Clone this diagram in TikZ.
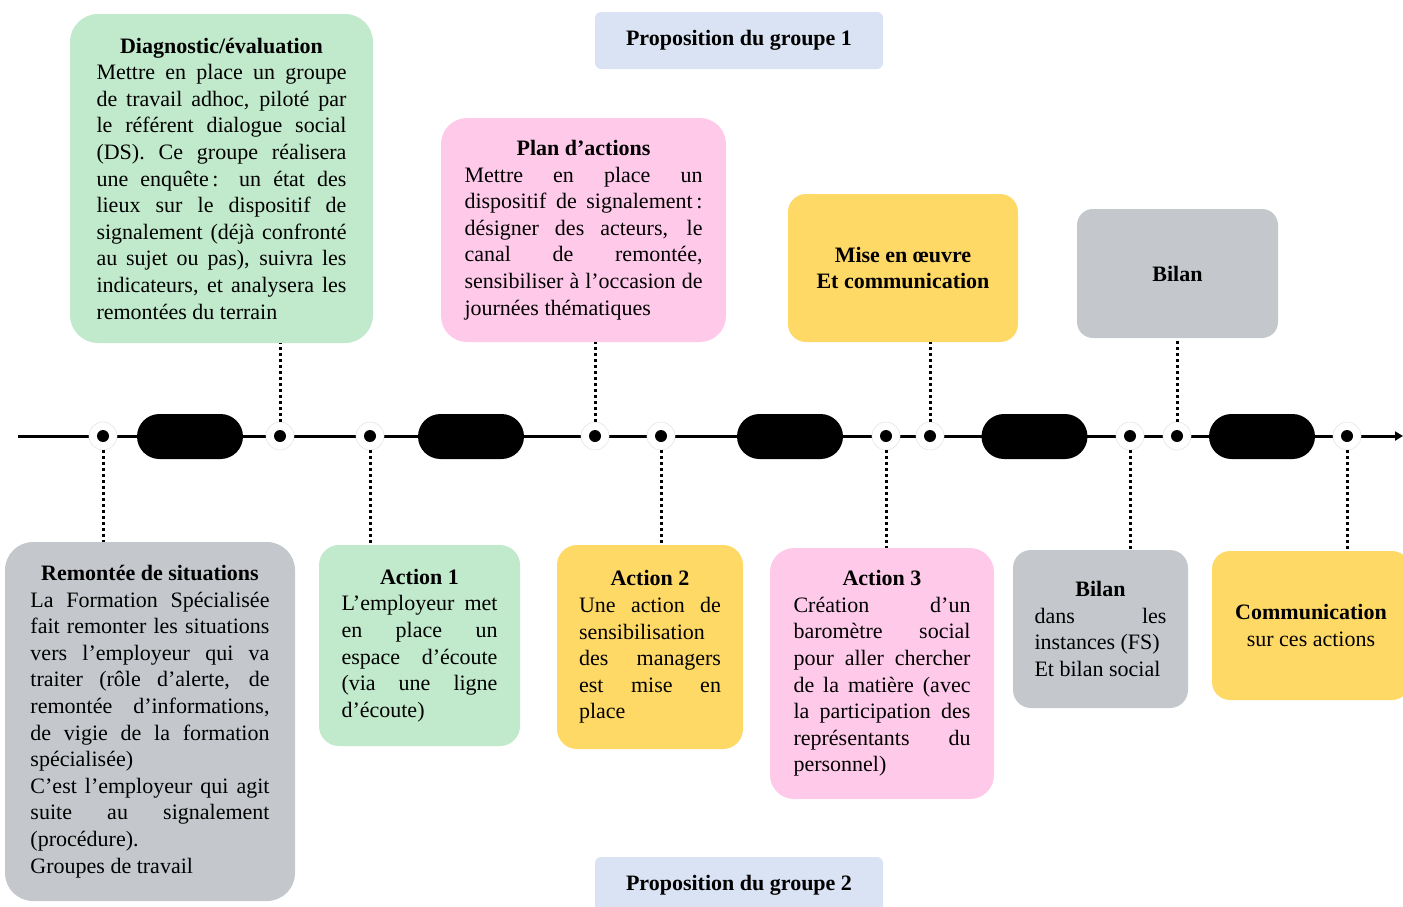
\documentclass[tikz,border=0pt]{standalone}
\usepackage{fontspec}
\setmainfont{Liberation Serif}
\usetikzlibrary{arrows.meta}
\definecolor{cgreen}{HTML}{C1E9CB}
\definecolor{cpink}{HTML}{FFCAEA}
\definecolor{cyellow}{HTML}{FFD966}
\definecolor{cgray}{HTML}{C4C8CC}
\definecolor{cblue}{HTML}{DAE3F3}
\newcommand\jrow[1]{\hbox to\hsize{#1}}
\newcommand\crow[1]{\hbox to\hsize{\hfil#1\hfil}}
\newcommand\lrow[1]{\hbox{#1}}
\newcommand\blk[2]{\vbox{\hsize=#1\relax #2}}
\tikzset{
  box/.style={fill=#1, rounded corners=20pt, inner sep=0pt, font=\fontsize{22}{26.6}\selectfont},
  pill/.style={fill=black, rounded corners=22.5pt, minimum width=106, minimum height=45, inner sep=0pt},
  milestone/.style={circle, fill=white, draw=gray!20, line width=0.6pt, minimum size=28, inner sep=0pt,
    path picture={\fill[black] (path picture bounding box.center) circle (6pt);}},
  timeline/.style={line width=3pt, -{Triangle[length=8pt,width=9pt]}},
  dots/.style={line width=3pt, dash pattern=on 3pt off 3pt},
}
\begin{document}
\begin{tikzpicture}[x=1pt, y=-1pt]
\useasboundingbox (0,0) rectangle (1403,906);
% timeline
\coordinate (tl0) at (18,436);
\coordinate (tl1) at (1403,436);
\draw[timeline] (tl0) -- (tl1);
% pills
\node[pill] (p1) at (190,436.5) {};
\node[pill] (p2) at (471,436.5) {};
\node[pill] (p3) at (790,436.5) {};
\node[pill] (p4) at (1034.5,436.5) {};
\node[pill] (p5) at (1262,436.5) {};
% milestones
\node[milestone] (m1) at (103,436) {};
\node[milestone] (m2) at (280,436) {};
\node[milestone] (m3) at (370,436) {};
\node[milestone] (m4) at (595,436) {};
\node[milestone] (m5) at (661,436) {};
\node[milestone] (m6) at (886,436) {};
\node[milestone] (m7) at (930,436) {};
\node[milestone] (m8) at (1130,436) {};
\node[milestone] (m9) at (1177,436) {};
\node[milestone] (m10) at (1347,436) {};
% top boxes
\node[box=cblue, rounded corners=6pt, minimum width=288, minimum height=57] (prop1) at (739,40.5)
  {\textbf{Proposition du groupe 1}};
\node[box=cgreen, rounded corners=28pt, minimum width=303, minimum height=329] (diag) at (221.5,178.5)
  {\blk{250pt}{%
   \crow{\bfseries Diagnostic/évaluation}
   \jrow{Mettre en place un groupe}
   \jrow{de travail adhoc, piloté par}
   \jrow{le référent dialogue social}
   \jrow{(DS). Ce groupe réalisera}
   \jrow{une enquête\,: un état des}
   \jrow{lieux sur le dispositif de}
   \jrow{signalement (déjà confronté}
   \jrow{au sujet ou pas), suivra les}
   \jrow{indicateurs, et analysera les}
   \lrow{remontées du terrain}}};
\node[box=cpink, rounded corners=26pt, minimum width=285, minimum height=224] (plan) at (583.5,230)
  {\blk{238pt}{%
   \crow{\bfseries Plan d’actions}
   \jrow{Mettre en place un}
   \jrow{dispositif de signalement\,:}
   \jrow{désigner des acteurs, le}
   \jrow{canal de remontée,}
   \jrow{sensibiliser à l’occasion de}
   \lrow{journées thématiques}}};
\node[box=cyellow, rounded corners=18pt, minimum width=230, minimum height=148] (mise) at (903,268)
  {\blk{220pt}{%
   \crow{\bfseries Mise en œuvre}
   \crow{\bfseries Et communication}}};
\node[box=cgray, rounded corners=16pt, minimum width=201, minimum height=129] (bilan1) at (1177.5,273.5)
  {\textbf{Bilan}};
% bottom boxes
\node[box=cgray, rounded corners=28pt, minimum width=290, minimum height=359] (rem) at (150,721.5)
  {\blk{239pt}{%
   \crow{\bfseries Remontée de situations}
   \jrow{La Formation Spécialisée}
   \jrow{fait remonter les situations}
   \jrow{vers l’employeur qui va}
   \jrow{traiter (rôle d’alerte, de}
   \jrow{remontée d’informations,}
   \jrow{de vigie de la formation}
   \lrow{spécialisée)}
   \jrow{C’est l’employeur qui agit}
   \jrow{suite au signalement}
   \lrow{(procédure).}
   \lrow{Groupes de travail}}};
\node[box=cgreen, rounded corners=20pt, minimum width=201, minimum height=201] (act1) at (419.5,645.5)
  {\blk{156pt}{%
   \crow{\bfseries Action 1}
   \jrow{L’employeur met}
   \jrow{en place un}
   \jrow{espace d’écoute}
   \jrow{(via une ligne}
   \lrow{d’écoute)}}};
\node[box=cyellow, rounded corners=20pt, minimum width=186, minimum height=204] (act2) at (650,647)
  {\blk{142pt}{%
   \crow{\bfseries Action 2}
   \jrow{Une action de}
   \lrow{sensibilisation}
   \jrow{des managers}
   \jrow{est mise en}
   \lrow{place}}};
\node[box=cpink, rounded corners=24pt, minimum width=224, minimum height=251] (act3) at (882,673.5)
  {\blk{177pt}{%
   \crow{\bfseries Action 3}
   \jrow{Création d’un}
   \jrow{baromètre social}
   \jrow{pour aller chercher}
   \jrow{de la matière (avec}
   \jrow{la participation des}
   \jrow{représentants du}
   \lrow{personnel)}}};
\node[box=cgray, rounded corners=18pt, minimum width=175, minimum height=158] (bilan2) at (1100.5,629)
  {\blk{132pt}{%
   \crow{\bfseries Bilan}
   \jrow{dans les}
   \lrow{instances (FS)}
   \lrow{Et bilan social}}};
\node[box=cyellow, rounded corners=18pt, minimum width=198, minimum height=149] (comm) at (1311,625.5)
  {\blk{190pt}{%
   \crow{\bfseries Communication}
   \crow{sur ces actions}}};
\node[box=cblue, rounded corners=6pt, minimum width=288, minimum height=57] (prop2) at (739,885.5)
  {\textbf{Proposition du groupe 2}};
% dotted connectors
\draw[dots] (m1.south) -- (m1.south |- rem.north);
\draw[dots] (m2.north) -- (m2.north |- diag.south);
\draw[dots] (m3.south) -- (m3.south |- act1.north);
\draw[dots] (m4.north) -- (m4.north |- plan.south);
\draw[dots] (m5.south) -- (m5.south |- act2.north);
\draw[dots] (m6.south) -- (m6.south |- act3.north);
\draw[dots] (m7.north) -- (m7.north |- mise.south);
\draw[dots] (m8.south) -- (m8.south |- bilan2.north);
\draw[dots] (m9.north) -- (m9.north |- bilan1.south);
\draw[dots] (m10.south) -- (m10.south |- comm.north);
\end{tikzpicture}
\end{document}
